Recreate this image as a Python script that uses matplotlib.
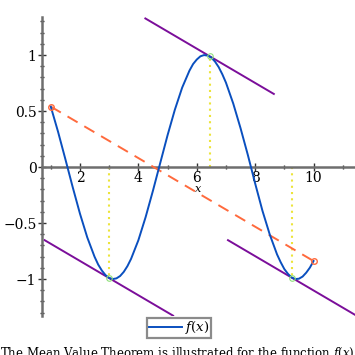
import matplotlib
matplotlib.use("Agg")
import matplotlib.pyplot as plt
from matplotlib.ticker import MultipleLocator

# curve samples (denser near the turning points)
x_vals = [1.00, 1.25, 1.50, 1.75, 2.00, 2.25, 2.50, 2.625, 2.75, 2.875, 3.00, 3.125, 3.25,
          3.375, 3.50, 3.625, 3.75, 4.00, 4.25, 4.50, 4.75, 5.00, 5.25, 5.50, 5.75,
          5.875, 6.00, 6.125, 6.25, 6.375, 6.50, 6.625, 6.75, 6.875, 7.00, 7.25, 7.50,
          7.75, 8.00, 8.25, 8.50, 8.75, 8.875, 9.00, 9.125, 9.25, 9.375, 9.50, 9.625,
          9.75, 9.875, 10.00]
f_vals = [0.540, 0.315, 0.071, -0.178, -0.416, -0.628, -0.801, -0.871, -0.924, -0.965, -0.990, -1.000, -0.994,
          -0.973, -0.936, -0.885, -0.820, -0.654, -0.446, -0.211, 0.037, 0.284, 0.512, 0.709, 0.861,
          0.920, 0.960, 0.989, 1.000, 0.995, 0.977, 0.942, 0.893, 0.829, 0.754, 0.567, 0.347,
          0.108, -0.146, -0.390, -0.602, -0.780, -0.850, -0.911, -0.954, -0.986, -1.000, -0.997, -0.978,
          -0.943, -0.898, -0.839]

# secant endpoints
end_x = [1.0, 10.0]
end_y = [0.540, -0.839]

# mean value points
c_vals = [2.99, 6.44, 9.27]
fc_vals = [-0.99, 0.99, -0.99]
tangent_half = 2.2

x_ticks = [2, 4, 6, 8, 10]
y_ticks = [-1, -0.5, 0, 0.5, 1]
y_ticklabels = ["\u22121", "\u22120.5", "0", "0.5", "1"]

blue = "#0a4fbf"
orange = "#ff6a3d"
purple = "#7b0e9a"
yellow = "#ece43a"
green = "#8fe07a"
axis_gray = "#6e6e6e"

plt.rcParams["font.family"] = "DejaVu Serif"
plt.rcParams["mathtext.fontset"] = "dejavuserif"

fig = plt.figure(figsize=(3.55, 3.55), dpi=100)
W = H = 355.0
# axes box in pixels: x 42..355, y 17..316
ax = fig.add_axes([42 / W, 1 - 316 / H, (355 - 42) / W, (316 - 17) / H])
ax.set_xlim(0.7, 11.42)
ax.set_ylim(-1.33, 1.34)

slope = (end_y[1] - end_y[0]) / (end_x[1] - end_x[0])

for c, fc in zip(c_vals, fc_vals):
    xs = [c - tangent_half, c + tangent_half]
    ys = [fc - slope * tangent_half, fc + slope * tangent_half]
    ax.plot(xs, ys, color=purple, lw=1.4, zorder=2)
    ax.plot([c, c], [0, fc], color=yellow, lw=1.5, ls=(0, (1, 2)), zorder=2)

ax.plot(end_x, end_y, color=orange, lw=1.4, ls=(0, (6, 4)), zorder=3)
ax.plot(x_vals, f_vals, color=blue, lw=1.4, zorder=4, label="$f(x)$")
ax.plot(end_x, end_y, "o", ms=4, mfc="none", mec=orange, mew=1, zorder=5)
ax.plot(c_vals, fc_vals, "o", ms=4, mfc="none", mec=green, mew=0.8, zorder=5)

for side in ["top", "right"]:
    ax.spines[side].set_visible(False)
ax.spines["bottom"].set_position(("data", 0))
ax.spines["left"].set_position(("data", 0.7))
for side in ["bottom", "left"]:
    ax.spines[side].set_color(axis_gray)
    ax.spines[side].set_linewidth(1.8)

ax.set_xticks(x_ticks)
ax.xaxis.set_minor_locator(MultipleLocator(1))
ax.set_yticks(y_ticks)
ax.set_yticklabels(y_ticklabels)
ax.yaxis.set_minor_locator(MultipleLocator(0.1))
ax.tick_params(which="major", direction="inout", length=6, width=1, color="#333333",
               labelsize=10, pad=1)
ax.tick_params(which="minor", direction="inout", length=3.5, width=1, color="#333333")
ax.tick_params(axis="x", which="major", pad=0)
ax.patch.set_visible(False)

ax.text(6.05, -0.2, "$x$", fontsize=8, ha="center", va="center")

fig.legend(loc="center", bbox_to_anchor=(179 / W, 1 - 328 / H), fontsize=9.5,
           frameon=True, fancybox=False, edgecolor=axis_gray, handlelength=2.5,
           handletextpad=0.2, borderpad=0.15, borderaxespad=0)
leg = fig.legends[0]
leg.get_frame().set_linewidth(1.6)

fig.text(0.0, 1 - 345 / H, "The Mean Value Theorem is illustrated for the function $f(x) = \\cos(x)$",
         fontsize=8.5, ha="left", va="top")

fig.savefig("out.png", dpi=100)
